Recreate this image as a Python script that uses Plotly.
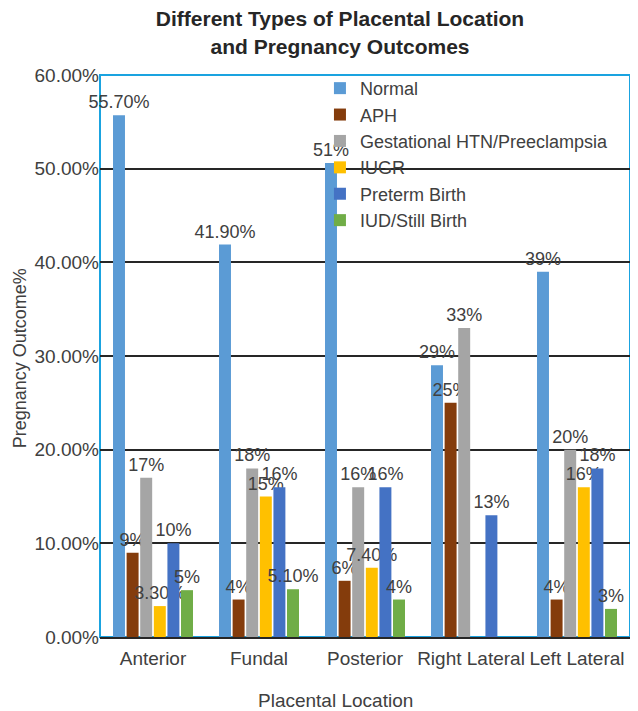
import plotly.graph_objects as go

categories = ["Anterior", "Fundal", "Posterior", "Right Lateral", "Left Lateral"]

series_names = ["Normal", "APH", "Gestational HTN/Preeclampsia", "IUGR", "Preterm Birth", "IUD/Still Birth"]
series_colors = ["#5B9BD5", "#843C0C", "#A5A5A5", "#FFC000", "#4472C4", "#70AD47"]

normal = [55.7, 41.9, 50.6, 29, 39]
aph = [9, 4, 6, 25, 4]
htn = [17, 18, 16, 33, 20]
iugr = [3.3, 15, 7.4, None, 16]
preterm = [10, 16, 16, 13, 18]
iud = [5, 5.1, 4, None, 3]

normal_labels = ["55.70%", "41.90%", "51%", "29%", "39%"]
aph_labels = ["9%", "4%", "6%", "25%", "4%"]
htn_labels = ["17%", "18%", "16%", "33%", "20%"]
iugr_labels = ["3.30%", "15%", "7.40%", "", "16%"]
preterm_labels = ["10%", "16%", "16%", "13%", "18%"]
iud_labels = ["5%", "5.10%", "4%", "", "3%"]

y_tick_vals = [0, 10, 20, 30, 40, 50, 60]
y_tick_text = ["0.00%", "10.00%", "20.00%", "30.00%", "40.00%", "50.00%", "60.00%"]

values = [normal, aph, htn, iugr, preterm, iud]
labels = [normal_labels, aph_labels, htn_labels, iugr_labels, preterm_labels, iud_labels]

FONT = "Liberation Sans, Arial, sans-serif"
TXT = "#404040"

fig = go.Figure()
for name, color, vals, labs in zip(series_names, series_colors, values, labels):
    fig.add_trace(go.Bar(
        x=categories, y=vals, name=name,
        marker=dict(color=color, line=dict(width=0)),
        text=labs, textposition="outside", cliponaxis=False,
        constraintext="none",
        textfont=dict(family=FONT, size=18, color=TXT),
    ))

fig.update_layout(
    width=630, height=703,
    margin=dict(l=92, r=8, t=67, b=74),
    paper_bgcolor="white", plot_bgcolor="white",
    barmode="group", bargap=0.23, bargroupgap=0.12,
    font=dict(family=FONT, size=18, color=TXT),
    title=dict(
        text="<b>Different Types of Placental Location<br>and Pregnancy Outcomes</b>",
        x=0.527, xref="container", xanchor="center",
        y=0.974, yref="container", yanchor="top",
        font=dict(family=FONT, size=21, color="#262626"),
    ),
    showlegend=True,
    legend=dict(
        x=0.415, y=1.009, xanchor="left", yanchor="top",
        bgcolor="rgba(0,0,0,0)", borderwidth=0,
        font=dict(family=FONT, size=18, color=TXT),
        tracegroupgap=0, itemwidth=30,
    ),
    xaxis=dict(
        showline=True, linecolor="#262626", linewidth=2,
        showgrid=False, ticks="", ticklabelstandoff=3,
        tickfont=dict(family=FONT, size=19, color=TXT),
    ),
    yaxis=dict(
        range=[0, 60], tickvals=y_tick_vals, ticktext=y_tick_text,
        showgrid=True, gridcolor="#262626", gridwidth=1.5,
        zeroline=False, showline=False, ticks="",
        tickfont=dict(family=FONT, size=19, color=TXT),
    ),
    shapes=[
        dict(type="rect", xref="paper", yref="paper", x0=0, x1=1, y0=0, y1=1,
             line=dict(color="#1AA3E0", width=2), layer="below"),
    ],
    annotations=[
        dict(text="Pregnancy Outcome%", xref="paper", yref="paper",
             x=-0.151, y=0.496, textangle=-90, showarrow=False,
             xanchor="center", yanchor="middle",
             font=dict(family=FONT, size=18, color=TXT)),
        dict(text="Placental Location", xref="paper", yref="paper",
             x=0.445, y=-0.113, showarrow=False,
             xanchor="center", yanchor="middle",
             font=dict(family=FONT, size=19, color=TXT)),
    ],
)

fig.write_html("out.html")
